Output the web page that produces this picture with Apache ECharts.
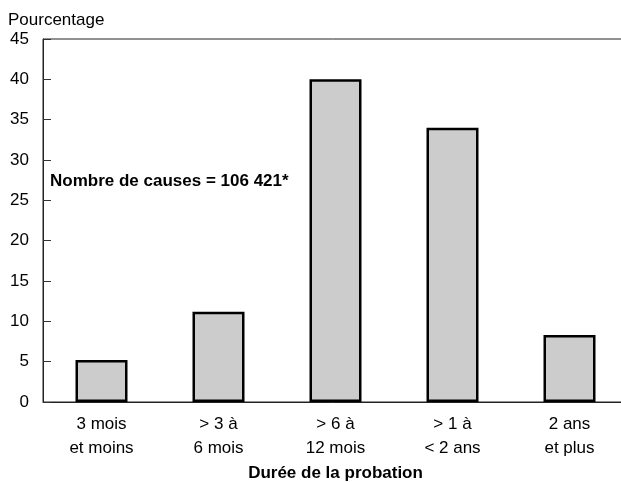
<!DOCTYPE html>
<html>
<head>
<meta charset="utf-8">
<script src="https://cdn.jsdelivr.net/npm/echarts@6/dist/echarts.min.js"></script>
<style>html,body{margin:0;padding:0;background:#fff}#c{width:621px;height:482px}</style>
</head>
<body>
<div id="c"></div>
<script>
var categories = ["3 mois\net moins", "> 3 à\n6 mois", "> 6 à\n12 mois", "> 1 à\n< 2 ans", "2 ans\net plus"];
var percentages = [5.2, 11.2, 40.0, 34.0, 8.3];
var yTicks = {min: 0, max: 45, interval: 5};
var yTitle = "Pourcentage";
var xTitle = "Durée de la probation";
var note = "Nombre de causes = 106 421*";

var font = "'Liberation Sans', Arial, sans-serif";
var chart = echarts.init(document.getElementById('c'), null, {renderer: 'canvas'});
chart.setOption({
  animation: false,
  backgroundColor: '#fff',
  grid: {left: 43, top: 39, width: 585, height: 363, outerBoundsMode: 'none', containLabel: false,
         show: true, borderColor: '#222', borderWidth: 1, backgroundColor: 'transparent'},
  xAxis: {
    type: 'category',
    data: categories,
    axisLine: {show: true, lineStyle: {color: '#222', width: 1}},
    axisTick: {show: false},
    axisLabel: {color: '#000', fontFamily: font, fontSize: 17, lineHeight: 24, margin: 10},
    name: xTitle,
    nameLocation: 'middle',
    nameGap: 63,
    nameTextStyle: {color: '#000', fontFamily: font, fontSize: 17, fontWeight: 'bold'}
  },
  yAxis: {
    type: 'value',
    min: yTicks.min, max: yTicks.max, interval: yTicks.interval,
    axisLine: {show: true, lineStyle: {color: '#222', width: 1}},
    axisTick: {show: true, inside: true, length: 8, lineStyle: {color: '#333', width: 1}},
    axisLabel: {color: '#000', fontFamily: font, fontSize: 17, margin: 14},
    splitLine: {show: false},
    name: yTitle,
    nameLocation: 'end',
    nameGap: 10,
    nameTextStyle: {color: '#000', fontFamily: font, fontSize: 17, align: 'left', padding: [0, 0, 0, -35]}
  },
  graphic: [{
    type: 'text', left: 50, top: 173,
    style: {text: note, fill: '#000', font: 'bold 17px ' + font}
  }],
  series: [{
    type: 'bar',
    data: percentages,
    barWidth: 52,
    itemStyle: {color: '#cccccc', borderColor: '#000', borderWidth: 2.5},
    emphasis: {disabled: true}
  }]
});
</script>
</body>
</html>
